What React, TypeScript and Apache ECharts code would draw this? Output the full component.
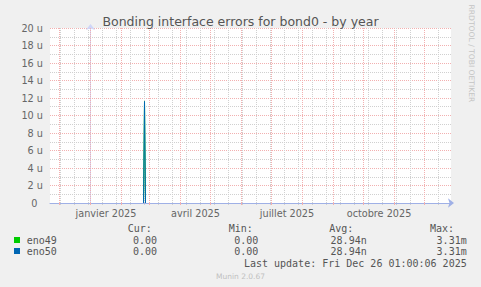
import React, { useEffect, useRef } from 'react';
import * as echarts from 'echarts';

const titleText = 'Bonding interface errors for bond0 - by year';
const watermarkText = 'RRDTOOL / TOBI OETIKER';
const muninVersion = 'Munin 2.0.67';
const lastUpdate = 'Last update: Fri Dec 26 01:00:06 2025';

// days counted from 1 Jan 2025
const pointDays = [53, 54, 55];
const eno49Values = [0, 11.6, 0]; // micro-errors per second
const eno50Values = [0, 11.6, 0];

const seriesNames = ['eno49', 'eno50'];
const seriesColors = ['#00cc00', '#0066b3'];

const monthStartDays = [-31, 0, 31, 59, 90, 120, 151, 181, 212, 243, 273, 304, 334];
const minorGridDays = [-30, -16, -2, 12, 26, 40, 54, 68, 82, 96, 110, 124, 138, 152, 166, 180, 194, 208, 222, 236, 250, 264, 278, 292, 306, 320, 334, 348];
const labelDays = [15.5, 105, 196.5, 288.5];
const labelTexts = ['janvier 2025', 'avril 2025', 'juillet 2025', 'octobre 2025'];

const yMin = 0;
const yMax = 20;
const yInterval = 2;

const statHeaders = ['Cur:', 'Min:', 'Avg:', 'Max:'];
const curValues = ['0.00', '0.00'];
const minValues = ['0.00', '0.00'];
const avgValues = ['28.94n', '28.94n'];
const maxValues = ['3.31m', '3.31m'];

const SANS = '"DejaVu Sans", Verdana, sans-serif';
const MONO = '"DejaVu Sans Mono", monospace';
const MAJOR = '#f2b0b0';
const MINOR = '#d0d0d0';

export default function App() {
  const ref = useRef<HTMLDivElement>(null);
  useEffect(() => {
    if (!ref.current) return;
    const chart = echarts.init(ref.current, undefined, { renderer: 'svg' });

    const headerX = [127.7, 228.7, 329.3, 430];
    const valueRightX = [157, 258.3, 366.7, 466.7];
    const rowY = [240, 251];
    const statCols = [curValues, minValues, avgValues, maxValues];

    const graphics: any[] = [];
    const monoText = (text: string, x: number, y: number, align: string, color = '#555') => ({
      type: 'text',
      x,
      y,
      silent: true,
      style: {
        text,
        fill: color,
        font: `10px ${MONO}`,
        align,
        textAlign: align,
        verticalAlign: 'middle',
        textVerticalAlign: 'middle',
      },
    });
    statHeaders.forEach((h, i) => graphics.push(monoText(h, headerX[i], 228.3, 'left')));
    seriesNames.forEach((name, r) => {
      graphics.push({
        type: 'rect',
        silent: true,
        shape: { x: 14, y: rowY[r] - 3, width: 6, height: 6 },
        style: { fill: seriesColors[r] },
      });
      graphics.push(monoText(name, 26.7, rowY[r], 'left'));
      statCols.forEach((col, c) => graphics.push(monoText(col[r], valueRightX[c], rowY[r], 'right')));
    });
    graphics.push(monoText(lastUpdate, 466.7, 263.3, 'right'));
    graphics.push({
      type: 'text',
      x: 240.5,
      y: 276.7,
      silent: true,
      style: {
        text: muninVersion,
        fill: '#c0c0c0',
        font: `7.5px ${SANS}`,
        align: 'center',
        textAlign: 'center',
        verticalAlign: 'middle',
        textVerticalAlign: 'middle',
      },
    });
    graphics.push({
      type: 'text',
      x: 471.5,
      y: 53.4,
      rotation: -Math.PI / 2,
      silent: true,
      style: {
        text: watermarkText,
        fill: '#c4c4c4',
        font: `7.6px ${SANS}`,
        align: 'center',
        textAlign: 'center',
        verticalAlign: 'middle',
        textVerticalAlign: 'middle',
      },
    });

    const xMin = -40.5;
    const xMax = 360.5;

    chart.setOption({
      animation: false,
      backgroundColor: '#f0f0f0',
      title: {
        text: titleText,
        left: 'center',
        top: 10,
        textStyle: { fontFamily: SANS, fontSize: 12.5, fontWeight: 'normal', color: '#555' },
      },
      grid: {
        left: 50,
        right: 30,
        top: 28,
        bottom: 84,
        show: true,
        backgroundColor: '#ffffff',
        borderWidth: 0,
      },
      xAxis: [
        {
          type: 'value',
          position: 'bottom',
          min: xMin,
          max: xMax,
          axisLine: { show: false },
          axisLabel: { show: false },
          axisTick: { show: true, customValues: minorGridDays, length: 2, lineStyle: { color: MINOR } },
          splitLine: { show: true, lineStyle: { color: MINOR, type: [1, 1], width: 1 } },
        },
        {
          type: 'value',
          position: 'bottom',
          min: xMin,
          max: xMax,
          z: 3,
          axisLine: {
            show: true,
            lineStyle: { color: '#9fb0e6', width: 1 },
            symbol: ['none', 'arrow'],
            symbolSize: [7, 6],
            symbolOffset: [0, 3],
          },
          axisTick: { show: true, customValues: monthStartDays, length: 2, lineStyle: { color: MAJOR } },
          axisLabel: {
            show: true,
            customValues: labelDays,
            formatter: (v: number) => {
              const i = labelDays.findIndex((d) => Math.abs(d - v) < 1e-6);
              return i >= 0 ? labelTexts[i] : '';
            },
            color: '#666',
            fontFamily: SANS,
            fontSize: 9.7,
            margin: 5,
          },
          splitLine: { show: true, lineStyle: { color: MAJOR, type: [1, 1], width: 1 } },
        },
      ],
      yAxis: {
        type: 'value',
        min: yMin,
        max: yMax,
        interval: yInterval,
        axisLine: {
          show: true,
          lineStyle: { color: '#CFD6F8', width: 1 },
          symbol: ['none', 'arrow'],
          symbolSize: [7, 6],
          symbolOffset: [0, 4],
        },
        axisTick: { show: true, length: 2, lineStyle: { color: MAJOR } },
        minorTick: { show: true, splitNumber: 2, length: 2, lineStyle: { color: MINOR } },
        splitLine: { show: true, lineStyle: { color: MAJOR, type: [1, 1], width: 1 } },
        minorSplitLine: { show: true, lineStyle: { color: MINOR, type: [1, 1], width: 1 } },
        axisLabel: {
          color: '#666',
          fontFamily: SANS,
          fontSize: 9.7,
          margin: 7,
          formatter: (v: number) => (v === 0 ? '{z|0}' : `${v} u`),
          rich: { z: { color: '#666', fontFamily: SANS, fontSize: 9.7, padding: [0, 5.5, 0, 0] } },
        },
      },
      series: [
        {
          name: seriesNames[0],
          type: 'line',
          xAxisIndex: 1,
          symbol: 'none',
          showSymbol: false,
          silent: true,
          z: 1,
          lineStyle: { color: seriesColors[0], width: 1 },
          data: pointDays.map((d, i) => [d, eno49Values[i]]),
        },
        {
          name: seriesNames[1],
          type: 'line',
          xAxisIndex: 1,
          symbol: 'none',
          showSymbol: false,
          silent: true,
          z: 1,
          lineStyle: { color: seriesColors[1], width: 1 },
          data: pointDays.map((d, i) => [d, eno50Values[i]]),
        },
      ],
      graphic: graphics,
    });
    return () => chart.dispose();
  }, []);
  return <div ref={ref} style={{ position: 'fixed', left: 0, top: 0, width: 481, height: 287 }} />;
}
